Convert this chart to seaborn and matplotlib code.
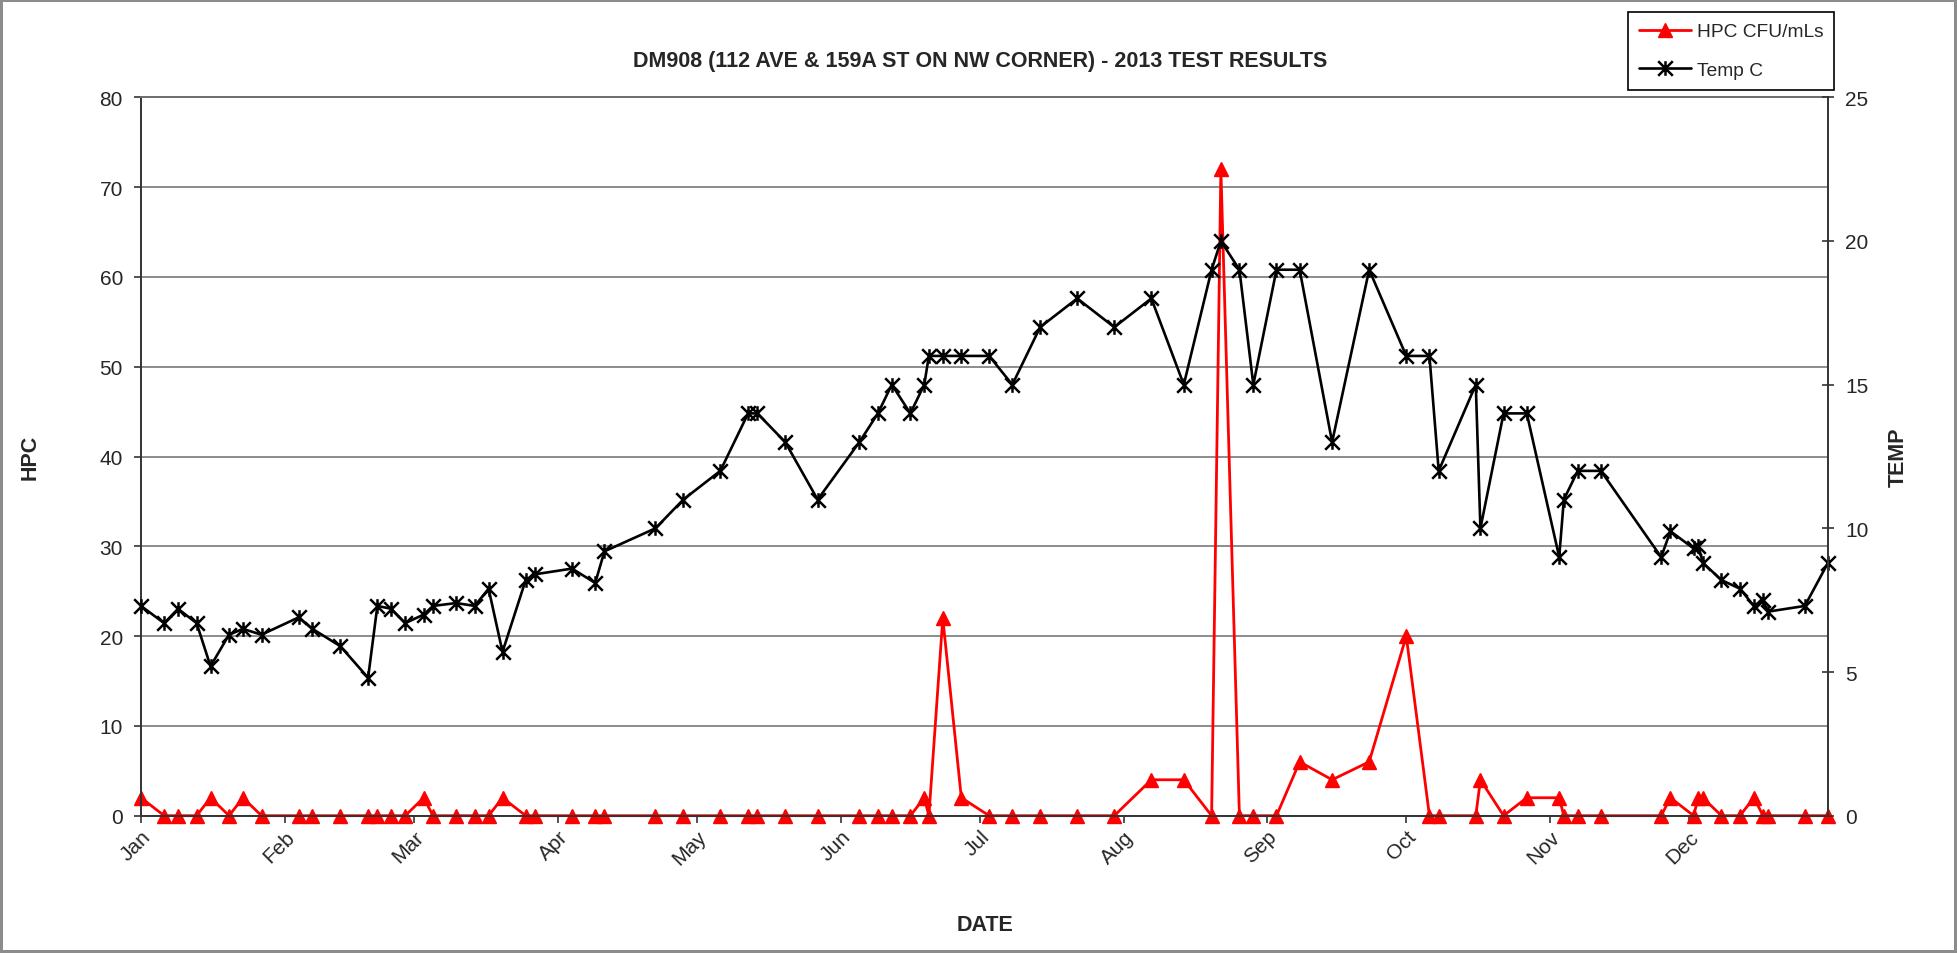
import pandas as pd
import seaborn as sns
import matplotlib.pyplot as plt
import matplotlib.dates as mdates
from matplotlib.path import Path

# Sample dates for 2013 and the two readings taken on each date
dates = ['2013-01-01', '2013-01-06', '2013-01-09', '2013-01-13', '2013-01-16', '2013-01-20',
         '2013-01-23', '2013-01-27', '2013-02-04', '2013-02-07', '2013-02-13', '2013-02-19',
         '2013-02-21', '2013-02-24', '2013-02-27', '2013-03-03', '2013-03-05', '2013-03-10',
         '2013-03-14', '2013-03-17', '2013-03-20', '2013-03-25', '2013-03-27', '2013-04-04',
         '2013-04-09', '2013-04-11', '2013-04-22', '2013-04-28', '2013-05-06', '2013-05-12',
         '2013-05-14', '2013-05-20', '2013-05-27', '2013-06-05', '2013-06-09', '2013-06-12',
         '2013-06-16', '2013-06-19', '2013-06-20', '2013-06-23', '2013-06-27', '2013-07-03',
         '2013-07-08', '2013-07-14', '2013-07-22', '2013-07-30', '2013-08-07', '2013-08-14',
         '2013-08-20', '2013-08-22', '2013-08-26', '2013-08-29', '2013-09-03', '2013-09-08',
         '2013-09-15', '2013-09-23', '2013-10-01', '2013-10-06', '2013-10-08', '2013-10-16',
         '2013-10-17', '2013-10-22', '2013-10-27', '2013-11-03', '2013-11-04', '2013-11-07',
         '2013-11-12', '2013-11-25', '2013-11-27', '2013-12-02', '2013-12-03', '2013-12-04',
         '2013-12-08', '2013-12-12', '2013-12-15', '2013-12-17', '2013-12-18', '2013-12-26',
         '2013-12-31']

hpc = [2, 0, 0, 0, 2, 0, 2, 0, 0, 0, 0, 0,
       0, 0, 0, 2, 0, 0, 0, 0, 2, 0, 0, 0,
       0, 0, 0, 0, 0, 0, 0, 0, 0, 0, 0, 0,
       0, 2, 0, 22, 2, 0, 0, 0, 0, 0, 4, 4,
       0, 72, 0, 0, 0, 6, 4, 6, 20, 0, 0, 0,
       4, 0, 2, 2, 0, 0, 0, 0, 2, 0, 2, 2,
       0, 0, 2, 0, 0, 0, 0]

temp = [7.3, 6.7, 7.2, 6.7, 5.2, 6.3, 6.5, 6.3, 6.9, 6.5, 5.9, 4.8,
        7.3, 7.2, 6.7, 7.0, 7.3, 7.4, 7.3, 7.9, 5.7, 8.2, 8.4, 8.6,
        8.1, 9.2, 10, 11, 12, 14, 14, 13, 11, 13, 14, 15,
        14, 15, 16, 16, 16, 16, 15, 17, 18, 17, 18, 15,
        19, 20, 19, 15, 19, 19, 13, 19, 16, 16, 12, 15,
        10, 14, 14, 9, 11, 12, 12, 9, 9.9, 9.3, 9.4, 8.8,
        8.2, 7.9, 7.3, 7.5, 7.1, 7.3, 8.8]

df = pd.DataFrame({'date': pd.to_datetime(dates), 'hpc': hpc, 'temp': temp})

sns.set_style('white')
plt.rcParams['font.family'] = ['Liberation Sans', 'DejaVu Sans']

# Excel style "star" marker: an X with a vertical bar through it
star = Path([(0, -1), (0, 1), (-1, -1), (1, 1), (-1, 1), (1, -1)],
            [Path.MOVETO, Path.LINETO, Path.MOVETO, Path.LINETO, Path.MOVETO, Path.LINETO])

fig = plt.figure(figsize=(19.57, 9.54), dpi=100)
ax = fig.add_axes([0.07205, 0.14392, 0.86204, 0.75304])
ax2 = ax.twinx()

sns.lineplot(data=df, x='date', y='hpc', ax=ax, color='#ff0000', linewidth=2.0,
             marker='^', markersize=10.5, markeredgecolor='#ff0000', markeredgewidth=1,
             clip_on=False, legend=False)
sns.lineplot(data=df, x='date', y='temp', ax=ax2, color='black', linewidth=1.9,
             marker=star, markersize=10.5, markeredgecolor='black', markeredgewidth=1.8,
             clip_on=False, legend=False)

# Axes ranges and ticks
ax.set_xlim(pd.Timestamp('2013-01-01'), pd.Timestamp('2013-12-31'))
ax.set_ylim(0, 80)
ax2.set_ylim(0, 25)
ax.set_yticks(range(0, 81, 10))
ax2.set_yticks(range(0, 26, 5))
ax.xaxis.set_major_locator(mdates.MonthLocator())
ax.xaxis.set_major_formatter(mdates.DateFormatter('%b'))

ax.grid(axis='y', color='#6e6e6e', linewidth=1.1)
ax2.grid(False)

spine_col = '#333333'
for s in ['left', 'bottom']:
    ax.spines[s].set_color(spine_col)
    ax.spines[s].set_linewidth(1.4)
ax.spines['right'].set_visible(False)
ax.spines['top'].set_color('#6e6e6e')
ax.spines['top'].set_linewidth(1.4)
for s in ['left', 'bottom', 'top']:
    ax2.spines[s].set_visible(False)
ax2.spines['right'].set_color(spine_col)
ax2.spines['right'].set_linewidth(1.4)

ax.tick_params(axis='y', direction='out', length=5, width=1.2, color=spine_col,
               labelsize=15, pad=8, left=True)
ax2.tick_params(axis='y', direction='inout', length=9, width=1.2, color=spine_col,
                labelsize=15, pad=8, right=True)
ax.tick_params(axis='x', direction='out', length=5, width=1.2, color=spine_col,
               labelsize=15, pad=3, bottom=True)
for lbl in ax.get_xticklabels():
    lbl.set_rotation(45)
    lbl.set_ha('right')
    lbl.set_va('top')
    lbl.set_rotation_mode('anchor')

# Axis labels and title
ax.set_xlabel('DATE', fontsize=15.5, fontweight='bold')
ax.set_ylabel('HPC', fontsize=15.5, fontweight='bold')
ax2.set_ylabel('TEMP', fontsize=15.5, fontweight='bold')
ax.xaxis.set_label_coords(0.5, -0.137)
ax.yaxis.set_label_coords(-0.0593, 0.5)
ax2.yaxis.set_label_coords(1.0353, 0.5)

fig.text(980 / 1957, 1 - 61 / 954, 'DM908 (112 AVE & 159A ST ON NW CORNER) - 2013 TEST RESULTS',
         ha='center', va='center', fontsize=15.5, fontweight='bold')

leg = fig.legend(handles=[ax.lines[0], ax2.lines[0]], labels=['HPC CFU/mLs', 'Temp C'],
                 loc='upper right', bbox_to_anchor=(0.9373, 0.9867), frameon=True,
                 fancybox=False, edgecolor='black', framealpha=1, fontsize=13.8,
                 handlelength=2.7, handletextpad=0.3, labelspacing=1.1, borderpad=0.58,
                 borderaxespad=0)
leg.get_frame().set_linewidth(1.2)

fig.patch.set_edgecolor('#8c8c8c')
fig.patch.set_linewidth(3)
plt.savefig('out.png', dpi=100, edgecolor=fig.get_edgecolor())
